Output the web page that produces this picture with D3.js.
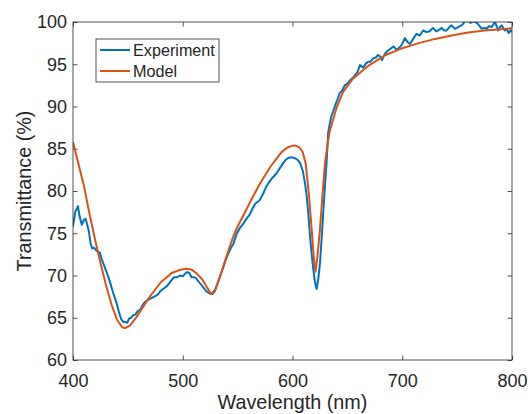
<!DOCTYPE html>
<html>
<head>
<meta charset="utf-8">
<script src="https://cdn.jsdelivr.net/npm/d3@7"></script>
<style>
  body { margin: 0; background: #fff; }
  svg text { font-family: "Liberation Sans", Arial, Helvetica, sans-serif; fill: #262626; }
</style>
</head>
<body>
<svg width="528" height="414"></svg>
<script>
'use strict';

// model curve (wavelength nm, transmittance %)
var modelX = [400, 405, 410, 415, 420, 425, 430, 435, 440, 445, 448, 452, 458, 465, 470, 480, 490, 497, 503, 508,
  513, 518, 522, 526, 530, 534, 538, 542, 546, 550, 556, 561, 570, 580, 590, 596, 602, 606, 609, 612,
  615, 617.5, 619.5, 621, 622.5, 625, 627, 629.6, 632, 634, 640, 646, 655, 670, 685, 700, 715, 730, 745, 760,
  775, 790, 800];
var modelY = [85.8, 83.2, 80.6, 77.3, 74.3, 71.5, 68.9, 66.6, 64.8, 63.85, 63.8, 64.1, 65.1, 66.5, 67.5, 69.2, 70.3, 70.65, 70.8, 70.7,
  70.2, 69.5, 68.6, 67.8, 68.4, 69.9, 71.5, 73.1, 74.6, 75.8, 77.3, 78.6, 80.8, 82.9, 84.6, 85.2, 85.4, 85.2, 84.7, 83.3,
  79.5, 75.4, 72.0, 70.45, 72.0, 75.4, 79.0, 83.3, 85.6, 87.1, 89.8, 91.7, 93.3, 94.9, 96.1, 96.9, 97.5, 98.0, 98.4, 98.75,
  99.0, 99.15, 99.25];

// experiment curve
var expX = [400, 402, 404.5, 406, 408, 410, 411.5, 413, 414.5, 416, 417.5, 419, 421, 423, 424.5, 426, 428, 430, 432, 434,
  436, 438, 440, 442, 444, 446, 448, 449.5, 451, 453, 455, 457, 459, 461, 463, 465, 468, 471, 474, 477,
  480, 483, 486, 489, 492, 495, 497.5, 500, 502, 504, 506, 508, 510, 512, 515, 518, 521, 524, 527, 529,
  532, 535, 537, 539, 541.5, 544, 546, 549, 552, 555, 558, 561, 563.5, 566, 568, 570, 573, 576, 579.5, 582,
  585.5, 588, 591.5, 594, 596, 599, 602, 604.5, 607, 609.5, 611.5, 613, 614.5, 616, 617.5, 619, 620.5, 622, 623.5, 625,
  626.5, 628, 629.5, 631, 632.6, 634, 635.5, 637, 639, 641.5, 643, 645, 647.5, 650, 652.5, 655, 657, 659, 661.5, 664.5,
  667, 669, 671, 673.5, 676, 678, 680, 681.5, 684, 686, 689, 692, 695, 697.5, 699.5, 702.5, 705, 707, 710, 713,
  716, 719, 722, 725, 728, 731, 734, 736, 738, 740.5, 743, 745, 748, 750, 752.5, 755, 757, 760, 762, 765,
  768, 770, 772.5, 775, 777, 779, 781.5, 784.5, 786, 787.5, 789, 790.5, 792, 793.5, 795, 797, 798.5, 800];
var expY = [75.8, 77.5, 78.2, 77.0, 76.0, 76.6, 76.7, 76.0, 75.2, 73.8, 73.2, 73.3, 73.0, 72.8, 72.7, 72.0, 71.3, 70.6, 69.9, 69.1,
  68.2, 67.4, 66.6, 65.6, 64.8, 64.5, 64.5, 64.4, 64.9, 65.0, 65.3, 65.4, 65.8, 65.9, 66.4, 66.8, 67.1, 67.3, 67.5, 67.7,
  68.2, 68.5, 68.8, 69.3, 69.8, 69.8, 70.0, 69.9, 70.2, 70.4, 70.3, 69.8, 69.8, 69.7, 69.2, 68.7, 68.2, 67.9, 67.8, 68.1,
  69.2, 70.3, 71.0, 71.8, 72.6, 73.3, 73.7, 74.9, 75.6, 76.1, 76.7, 77.2, 77.9, 78.5, 78.7, 78.9, 79.6, 80.5, 81.2, 81.6,
  82.1, 82.6, 83.3, 83.7, 83.9, 84.0, 83.9, 83.7, 83.3, 82.3, 80.8, 79.3, 77.2, 74.6, 72.5, 70.7, 69.2, 68.4, 69.6, 71.4,
  74.3, 77.4, 80.5, 83.3, 87.0, 88.0, 88.9, 89.4, 90.2, 91.0, 91.6, 91.8, 92.5, 92.7, 93.1, 93.4, 93.7, 94.0, 94.9, 94.6,
  95.1, 95.3, 95.3, 95.7, 95.8, 96.1, 95.9, 95.5, 96.2, 96.5, 96.8, 97.1, 96.7, 97.0, 97.3, 98.1, 97.6, 97.4, 98.0, 98.6,
  98.4, 99.0, 98.8, 98.9, 99.3, 98.9, 99.1, 99.3, 99.0, 99.0, 99.4, 99.6, 99.2, 99.3, 99.5, 99.7, 100.1, 100.2, 99.9, 100.1,
  99.9, 99.6, 99.2, 99.3, 99.2, 99.5, 99.4, 100.0, 99.5, 99.0, 99.4, 99.6, 99.3, 99.0, 99.2, 98.7, 99.0, 98.8];

var xTicks = [400, 500, 600, 700, 800];
var yTicks = [60, 65, 70, 75, 80, 85, 90, 95, 100];
var seriesNames = ['Experiment', 'Model'];
var seriesColors = ['#0072BD', '#D95319'];

var svg = d3.select('svg'),
    margin = {top: 22, right: 16, bottom: 54, left: 73},
    width = +svg.attr('width') - margin.left - margin.right,
    height = +svg.attr('height') - margin.top - margin.bottom;

var x = d3.scaleLinear().domain([400, 800]).range([0, width]);
var y = d3.scaleLinear().domain([60, 100]).range([height, 0]);

var g = svg.append('g')
  .attr('transform', 'translate(' + margin.left + ',' + margin.top + ')');

svg.append('defs').append('clipPath').attr('id', 'clip')
  .append('rect').attr('width', width).attr('height', height);

function styleAxis(sel) {
  sel.select('.domain').remove();
  sel.selectAll('line').attr('stroke', '#262626').attr('stroke-width', 0.8);
  sel.selectAll('text').attr('fill', '#262626').style('font-size', '18px');
}

// inward ticks on all four sides
g.append('g')
  .attr('transform', 'translate(0,' + height + ')')
  .call(d3.axisBottom(x).tickValues(xTicks).tickSize(-4.5).tickPadding(14))
  .call(styleAxis);
g.append('g')
  .call(d3.axisTop(x).tickValues(xTicks).tickSize(-4.5).tickFormat(''))
  .call(styleAxis);
g.append('g')
  .call(d3.axisLeft(y).tickValues(yTicks).tickSize(-4.5).tickPadding(6))
  .call(styleAxis);
g.append('g')
  .attr('transform', 'translate(' + width + ',0)')
  .call(d3.axisRight(y).tickValues(yTicks).tickSize(-4.5).tickFormat(''))
  .call(styleAxis);

var line = d3.line()
  .x(function(d) { return x(d[0]); })
  .y(function(d) { return y(d[1]); });

var series = [d3.zip(expX, expY), d3.zip(modelX, modelY)];

g.append('g').attr('clip-path', 'url(#clip)')
  .selectAll('path.series')
  .data(series)
  .enter().append('path')
    .attr('class', 'series')
    .attr('d', line)
    .attr('fill', 'none')
    .attr('stroke', function(d, i) { return seriesColors[i]; })
    .attr('stroke-width', 2)
    .attr('stroke-linejoin', 'round');

g.append('rect')
  .attr('width', width).attr('height', height)
  .attr('fill', 'none').attr('stroke', '#262626').attr('stroke-width', 0.8);

// axis labels
g.append('text')
  .attr('x', width / 2).attr('y', height + 49)
  .attr('text-anchor', 'middle')
  .style('font-size', '19.8px')
  .text('Wavelength (nm)');

g.append('text')
  .attr('transform', 'translate(' + (31 - margin.left) + ',' + (height / 2) + ') rotate(-90)')
  .attr('text-anchor', 'middle')
  .style('font-size', '19.8px')
  .text('Transmittance (%)');

// legend
var legend = svg.append('g').attr('transform', 'translate(96,39)');
legend.append('rect')
  .attr('width', 123).attr('height', 43)
  .attr('fill', '#fff').attr('stroke', '#262626').attr('stroke-width', 0.8);

var item = legend.selectAll('g.item')
  .data(seriesNames)
  .enter().append('g')
    .attr('class', 'item')
    .attr('transform', function(d, i) { return 'translate(0,' + (11 + i * 21) + ')'; });

item.append('line')
  .attr('x1', 4).attr('x2', 34)
  .attr('stroke', function(d, i) { return seriesColors[i]; })
  .attr('stroke-width', 2);

item.append('text')
  .attr('x', 37).attr('y', 6)
  .style('font-size', '16.2px')
  .text(function(d) { return d; });
</script>
</body>
</html>
